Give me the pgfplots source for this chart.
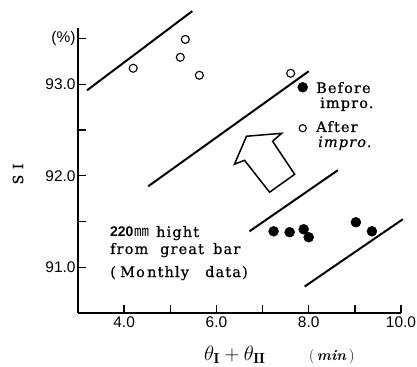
\documentclass[border=0pt]{standalone}
\usepackage{fontspec}
\newfontfamily\cjk{Noto Sans CJK JP}
\newfontfamily\numfont{Liberation Sans}
\newfontfamily\serif[LetterSpace=8,FakeBold=0.7]{DejaVu Serif}
\usepackage{pgfplots}
\pgfplotsset{compat=1.18}
\newcommand{\txt}{\serif\fontsize{14.5}{17}\selectfont}
\begin{document}
\begin{tikzpicture}
\useasboundingbox (-78bp,-54bp) rectangle (339bp,313bp);
\begin{axis}[
  scale only axis, width=323bp, height=285bp,
  xmin=3, xmax=10, ymin=90.5, ymax=93.615,
  axis lines=left, axis line style={-, line width=2bp},
  xtick={4,6,8,10}, xticklabels={4.0,6.0,8.0,10.0},
  minor xtick={5,7,9},
  ytick={91,92,93,93.5}, yticklabels={91.0,92.0,93.0,(\%)},
  minor ytick={91.5,92.5},
  major tick length=8bp, minor tick length=8bp,
  tick style={line width=1.3bp, black},
  tick align=inside,
  ticklabel style={font=\numfont\fontsize{15.5}{17}\selectfont},
  yticklabel style={xshift=1bp},
  clip=false,
]
% after improvement
\addplot[only marks, mark=o, mark size=4bp, mark options={line width=1.1bp}]
  coordinates {(4.196,93.175)(5.326,93.49)(5.217,93.295)(5.63,93.098)(7.609,93.12)};
% before improvement
\addplot[only marks, mark=*, mark size=5bp]
  coordinates {(7.239,91.393)(7.587,91.383)(7.891,91.415)(8.0,91.328)(9.022,91.492)(9.37,91.393)};
% legend symbols
\addplot[only marks, mark=*, mark size=5bp] coordinates {(7.87,92.967)};
\addplot[only marks, mark=o, mark size=3.6bp, mark options={line width=1.1bp}] coordinates {(7.87,92.52)};
% boundary lines
\addplot[line width=2bp] coordinates {(3.196,92.934)(5.478,93.80)};
\addplot[line width=2bp] coordinates {(4.522,91.885)(8.0,93.142)};
\addplot[line width=2bp] coordinates {(6.717,91.393)(8.63,92.06)};
\addplot[line width=2bp] coordinates {(7.913,90.79)(10.04,91.525)};
% arrow
\addplot[line width=1.5bp, line join=miter] coordinates {(6.652,92.432)(7.413,92.464)(7.217,92.377)(7.696,92.016)(7.152,91.820)(6.609,92.169)(6.391,92.126)} -- cycle;
\end{axis}
\node[anchor=base west, inner sep=0] at (238bp,220bp) {\txt Before};
\node[anchor=base west, inner sep=0] at (242bp,205bp) {\txt impro.};
\node[anchor=base west, inner sep=0] at (238bp,181bp) {\txt After};
\node[anchor=base west, inner sep=0] at (240bp,166bp) {\txt\itshape impro.};
% annotation block
\node[anchor=base west, inner sep=0] at (32bp,76bp) {\numfont\bfseries\fontsize{14}{16}\selectfont 220};
\node[anchor=base west, inner sep=0] at (56bp,76bp) {\cjk\fontsize{15}{16}\selectfont ㎜};
\node[anchor=base west, inner sep=0] at (78bp,76bp) {\txt hight};
\node[anchor=base west, inner sep=0] at (32bp,59bp) {\txt from};
\node[anchor=base west, inner sep=0] at (82bp,59bp) {\txt great};
\node[anchor=base west, inner sep=0] at (135bp,59bp) {\txt bar};
\node[anchor=base west, inner sep=0] at (32bp,36bp) {\txt (};
\node[anchor=base west, inner sep=0] at (42bp,36bp) {\txt Mo};
\node[anchor=base west, inner sep=0] at (69bp,36bp) {\txt nthly};
\node[anchor=base west, inner sep=0] at (127bp,36bp) {\txt data};
\node[anchor=base west, inner sep=0] at (164bp,36bp) {\txt )};
% axis labels
\node[anchor=base west, inner sep=0] at (126bp,-47bp) {\fontsize{21}{23}\selectfont $\theta_{\mathbf{I}} + \theta_{\mathbf{II}}$};
\node[anchor=base west, inner sep=0] at (231bp,-47bp) {\fontsize{15}{17}\selectfont (\,\textit{\textbf{min}}\,)};
\node[rotate=90, inner sep=0] at (-60bp,139bp) {\serif\fontsize{14}{16}\selectfont S\ I};
\end{tikzpicture}
\end{document}
